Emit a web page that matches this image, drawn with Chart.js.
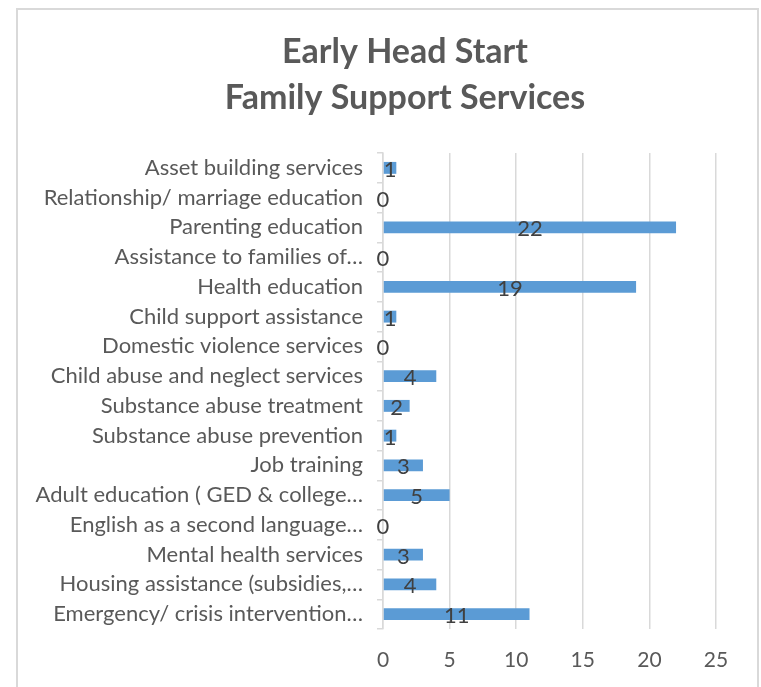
<!DOCTYPE html>
<html>
<head>
<meta charset="utf-8">
<script src="https://cdn.jsdelivr.net/npm/chart.js@4.4.1/dist/chart.umd.min.js"></script>
<style>
    html, body { margin: 0; padding: 0; background: #fff; }
    #frame {
        position: absolute; left: 16px; top: 8px;
        width: 739px; height: 700px;
        border: 2px solid #d9d9d9;
    }
    #wrap { position: absolute; left: 0; top: 0; width: 761px; height: 687px; }
</style>
</head>
<body>
<div id="frame"></div>
<div id="wrap"><canvas id="chart"></canvas></div>
<script>
// Family support services, top to bottom as shown
const services = [
    'Asset building services',
    'Relationship/ marriage education',
    'Parenting education',
    'Assistance to families of…',
    'Health education',
    'Child support assistance',
    'Domestic violence services',
    'Child abuse and neglect services',
    'Substance abuse treatment',
    'Substance abuse prevention',
    'Job training',
    'Adult education ( GED & college…',
    'English as a second language…',
    'Mental health services',
    'Housing assistance (subsidies,…',
    'Emergency/ crisis intervention…'
];
const families = [1, 0, 22, 0, 19, 1, 0, 4, 2, 1, 3, 5, 0, 3, 4, 11];
const xTicks = [0, 5, 10, 15, 20, 25];
const titleLines = ['Early Head Start', 'Family Support Services'];

const FONT = 'Lato, "Open Sans", sans-serif';

/**
 * Draw the value of each bar in its middle.
 */
const valueLabels = {
    id: 'valueLabels',
    afterDatasetsDraw(chart) {
        const ctx = chart.ctx;
        const meta = chart.getDatasetMeta(0);
        ctx.save();
        ctx.font = '22px ' + FONT;
        ctx.fillStyle = '#404040';
        ctx.textAlign = 'center';
        ctx.textBaseline = 'middle';
        meta.data.forEach((bar, i) => {
            const x = (bar.x + bar.base) / 2;
            ctx.fillText(String(families[i]), x, bar.y + 2);
        });
        ctx.restore();
    }
};

new Chart(document.getElementById('chart'), {
    type: 'bar',
    data: {
        labels: services,
        datasets: [{
            data: families,
            backgroundColor: '#5b9bd5',
            barPercentage: 0.4,
            categoryPercentage: 1
        }]
    },
    options: {
        indexAxis: 'y',
        responsive: true,
        maintainAspectRatio: false,
        animation: false,
        layout: { padding: { left: 94, right: 45, top: 0, bottom: 14 } },
        scales: {
            x: {
                min: xTicks[0],
                max: xTicks[xTicks.length - 1],
                afterFit(scale) { scale.height = 44; },
                ticks: {
                    stepSize: 5,
                    color: '#595959',
                    font: { family: FONT, size: 21 },
                    padding: 19
                },
                grid: { color: '#d9d9d9', lineWidth: 1.5, drawTicks: false },
                border: { display: false }
            },
            y: {
                afterFit(scale) {
                    scale.width = 289;
                    // long labels run past the axis box on the left
                    scale._computeLabelArea = () => undefined;
                },
                ticks: {
                    color: '#595959',
                    font: { family: FONT, size: 22 },
                    padding: 14,
                    autoSkip: false
                },
                grid: { drawOnChartArea: false, color: '#d9d9d9', lineWidth: 1.5, tickLength: 6 },
                border: { display: true, color: '#d9d9d9', width: 1.5 }
            }
        },
        plugins: {
            legend: { display: false },
            tooltip: { enabled: false },
            title: {
                display: true,
                text: titleLines,
                color: '#595959',
                font: { family: FONT, size: 34, weight: 'bold', lineHeight: 46 / 34 },
                padding: { top: 29, bottom: 32 }
            }
        }
    },
    plugins: [valueLabels]
});
</script>
</body>
</html>
